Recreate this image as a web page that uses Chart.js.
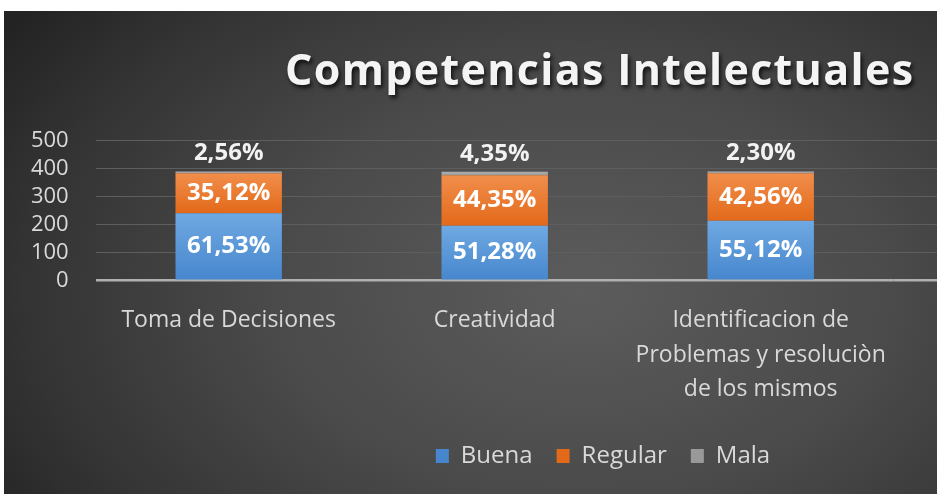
<!DOCTYPE html>
<html lang="es">
<head>
<meta charset="utf-8">
<title>Competencias Intelectuales</title>
<script src="https://cdn.jsdelivr.net/npm/chart.js@4.4.1/dist/chart.umd.min.js"></script>
<style>
    body { margin: 0; background: #ffffff; width: 937px; height: 494px; overflow: hidden; }
    #marco {
        position: absolute; left: 4px; top: 11px; width: 933px; height: 483px;
        background: radial-gradient(ellipse 75% 95% at 62% 58%, #5c5c5c 0%, #4a4a4a 45%, #333333 80%, #232323 100%);
    }
    #grafico { display: block; }
</style>
</head>
<body>
<div id="marco"><canvas id="grafico" width="933" height="483"></canvas></div>
<script>
// Datos
const categorias = ['Toma de Decisiones', 'Creatividad', ['Identificacion de', 'Problemas y resoluciòn', 'de los mismos']];
const buena = [241, 196, 214];
const regular = [143, 181, 170];
const mala = [6, 12, 6];

// Etiquetas de porcentaje que muestra cada segmento
const pctBuena = ['61,53%', '51,28%', '55,12%'];
const pctRegular = ['35,12%', '44,35%', '42,56%'];
const pctMala = ['2,56%', '4,35%', '2,30%'];

const ticksY = [0, 100, 200, 300, 400, 500];
const titulo = 'Competencias Intelectuales';

Chart.defaults.font.family = "'Open Sans', sans-serif";
Chart.defaults.color = '#d9d9d9';

const series = [buena, regular, mala];

// Degradado vertical para cada segmento (mas claro arriba)
function degradado(claro, oscuro, solido) {
    return function (c) {
        const chart = c.chart;
        if (c.type !== 'data' || !chart.chartArea) return solido;
        const y = chart.scales.y;
        let base = 0;
        for (let i = 0; i < c.datasetIndex; i++) base += series[i][c.dataIndex];
        const tope = base + series[c.datasetIndex][c.dataIndex];
        const g = chart.ctx.createLinearGradient(0, y.getPixelForValue(tope), 0, y.getPixelForValue(base));
        g.addColorStop(0, claro);
        g.addColorStop(1, oscuro);
        return g;
    };
}

// Titulo con sombra y algo de espaciado entre letras
const pluginTitulo = {
    id: 'titulo',
    afterDraw(chart) {
        const ctx = chart.ctx;
        ctx.save();
        ctx.font = "bold 43px 'Open Sans', sans-serif";
        ctx.textBaseline = 'alphabetic';
        ctx.textAlign = 'left';
        const anchoTotal = 628;
        const letras = titulo.split('');
        const natural = letras.reduce((s, l) => s + ctx.measureText(l).width, 0);
        const extra = (anchoTotal - natural) / (letras.length - 1);
        let x = 595 - anchoTotal / 2;
        ctx.shadowColor = 'rgba(0,0,0,0.75)';
        ctx.shadowOffsetX = 2;
        ctx.shadowOffsetY = 3;
        ctx.shadowBlur = 4;
        ctx.fillStyle = '#f4f4f4';
        letras.forEach(l => {
            ctx.fillText(l, x, 74);
            x += ctx.measureText(l).width + extra;
        });
        ctx.restore();
    }
};

// Las lineas de division siguen hasta el borde derecho
const pluginRejilla = {
    id: 'rejilla',
    beforeDatasetsDraw(chart) {
        const ctx = chart.ctx;
        const y = chart.scales.y;
        ctx.save();
        (y._gridLineItems || []).forEach(item => {
            ctx.beginPath();
            ctx.strokeStyle = item.color;
            ctx.lineWidth = item.width;
            ctx.moveTo(item.x2, item.y2);
            ctx.lineTo(chart.width, item.y2);
            ctx.stroke();
        });
        ctx.restore();
    }
};

// Porcentajes sobre las barras
const pluginEtiquetas = {
    id: 'etiquetas',
    afterDatasetsDraw(chart) {
        const ctx = chart.ctx;
        const textos = [pctBuena, pctRegular, pctMala];
        ctx.save();
        ctx.font = "bold 24px 'Open Sans', sans-serif";
        ctx.textAlign = 'center';
        ctx.textBaseline = 'middle';
        chart.data.datasets.forEach((ds, i) => {
            chart.getDatasetMeta(i).data.forEach((barra, j) => {
                if (i === 2) {
                    ctx.fillStyle = '#f2f2f2';
                    ctx.fillText(textos[i][j], barra.x, barra.y - 18);
                } else {
                    ctx.fillStyle = '#ffffff';
                    ctx.fillText(textos[i][j], barra.x, (barra.y + barra.base) / 2);
                }
            });
        });
        ctx.restore();
    }
};

// Mueve la leyenda para que quede centrada como en el original
const pluginLeyenda = {
    id: 'moverLeyenda',
    afterLayout(chart) {
        const lg = chart.legend;
        const pad = lg.options.labels.padding;
        const dx = (2 * 611 - pad - (lg.left + lg.right)) / 2;
        lg.left += dx;
        lg.right += dx;
        const alto = lg.bottom - lg.top;
        lg.top = 445 - pad - 12;
        lg.bottom = lg.top + alto;
    }
};

const ctx = document.getElementById('grafico').getContext('2d');

new Chart(ctx, {
    type: 'bar',
    data: {
        labels: categorias,
        datasets: [
            { label: 'Buena', data: buena, backgroundColor: degradado('#6fa9e2', '#4686cd', '#5b9bd5') },
            { label: 'Regular', data: regular, backgroundColor: degradado('#f18e4b', '#e2691a', '#ed7d31') },
            { label: 'Mala', data: mala, backgroundColor: degradado('#b0b0b0', '#999999', '#a5a5a5') }
        ]
    },
    options: {
        responsive: false,
        animation: false,
        layout: { padding: { top: 129.7, right: 43.3, bottom: 0, left: 0 } },
        datasets: {
            bar: { categoryPercentage: 1, barPercentage: 0.4, borderWidth: 0 }
        },
        scales: {
            x: {
                stacked: true,
                grid: { display: false },
                border: { display: false },
                ticks: {
                    color: '#d9d9d9',
                    padding: 15,
                    maxRotation: 0,
                    autoSkip: false,
                    font: { size: 23, lineHeight: 1.5 }
                },
                afterFit(scale) {
                    const lg = scale.chart.legend;
                    scale.height = 483 - (lg ? lg.height : 0) - 269.7;
                }
            },
            y: {
                stacked: true,
                min: 0,
                max: 500,
                afterBuildTicks(scale) {
                    scale.ticks = ticksY.map(v => ({ value: v }));
                },
                grid: {
                    drawTicks: false,
                    color: c => c.tick.value === 0 ? '#b0b0b0' : '#5e5e5e',
                    lineWidth: c => c.tick.value === 0 ? 2.5 : 1
                },
                border: { display: false },
                ticks: {
                    color: '#d9d9d9',
                    padding: 27,
                    autoSkip: false,
                    font: { size: 22 }
                },
                afterFit(scale) {
                    scale.width = 91.7;
                }
            }
        },
        plugins: {
            legend: {
                position: 'bottom',
                labels: {
                    color: '#d9d9d9',
                    boxWidth: 13,
                    boxHeight: 14,
                    padding: 24,
                    font: { size: 24 }
                }
            },
            tooltip: { enabled: false }
        }
    },
    plugins: [pluginRejilla, pluginEtiquetas, pluginTitulo, pluginLeyenda]
});
</script>
</body>
</html>
